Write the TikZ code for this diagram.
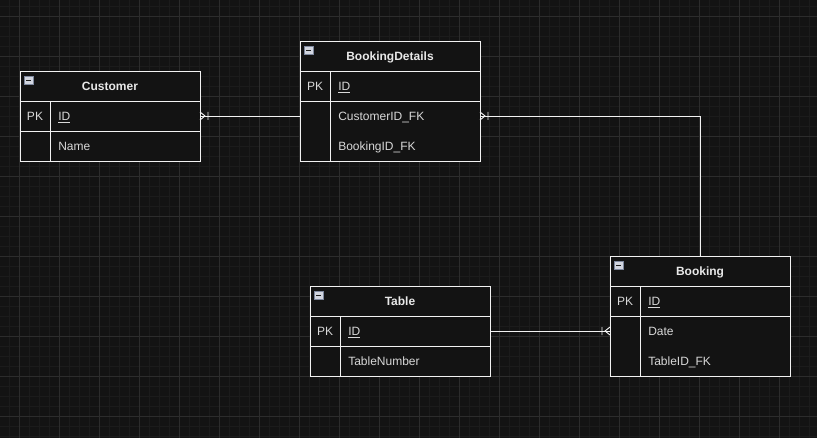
\documentclass[tikz,border=0pt]{standalone}
\usepackage{fontspec}
\setmainfont{Liberation Sans}

\definecolor{erbg}{HTML}{131313}
\definecolor{ergridminor}{HTML}{1B1B1B}
\definecolor{ergridmajor}{HTML}{2C2C2C}
\definecolor{erwhite}{HTML}{F2F2F2}
\definecolor{ertitletext}{HTML}{E8E8E8}
\definecolor{erfieldtext}{HTML}{D8D8D8}
\definecolor{ericonfill}{HTML}{D2D6E0}
\definecolor{ericonrim}{HTML}{7E889E}
\definecolor{ericonmark}{HTML}{1E1E1E}

\tikzset{
	erline/.style={draw=erwhite, line width=0.7pt},
	erbox/.style={erline, fill=erbg, anchor=north west, inner sep=0pt, outer sep=0pt, minimum width=135pt},
	ertitle/.style={text=ertitletext, font=\fontsize{9pt}{11pt}\selectfont\bfseries, inner sep=0pt, text height=6.45pt, text depth=0pt},
	erkey/.style={text=erfieldtext, font=\fontsize{9pt}{11pt}\selectfont, inner sep=0pt, text height=6.45pt, text depth=0pt},
	erfield/.style={erkey, anchor=west},
	ericon/.style={draw=ericonrim, fill=ericonfill, line width=0.6pt, minimum size=6.6pt, inner sep=0pt},
	ericonbar/.style={draw=ericonmark, line width=0.9pt},
}

\def\erIcon#1{\node[ericon] (#1) at (8.7,9.4) {};
	\draw[ericonbar] ([xshift=1.7pt]#1.west) -- ([xshift=-1.7pt]#1.east);}
\def\crowFoot#1#2{\begin{scope}[shift={(#1)}, xscale=#2]
	\draw[erline] (0,-4) -- (5,0) -- (0,4) (8,-4) -- (8,4);
	\end{scope}}

\begin{document}
\begin{tikzpicture}[x=0.75pt, y=-0.75pt, line cap=butt]
		% canvas and grid
		\path[use as bounding box, fill=erbg] (0,0) rectangle (817,438);
		\foreach \gx in {9.5,19.5,...,817} \draw[ergridminor, line width=0.6pt] (\gx,0) -- (\gx,438);
		\foreach \gy in {6,16,...,438} \draw[ergridminor, line width=0.6pt] (0,\gy) -- (817,\gy);
		\foreach \gx in {19.5,59.5,...,817} \draw[ergridmajor, line width=0.7pt] (\gx,0) -- (\gx,438);
		\foreach \gy in {16,56,...,438} \draw[ergridmajor, line width=0.7pt] (0,\gy) -- (817,\gy);
		
		% Customer
		\begin{scope}[shift={(20,71)}]
			\node[erbox, minimum height=67.5pt] (customer) at (0,0) {};
			\draw[erline] (0,30) -- (180,30) (0,60) -- (180,60) (30,30) -- (30,90);
			\erIcon{customerIcon}
			\node[ertitle] (customerTitle) at (90,15) {Customer};
			\node[erkey] (customerPK) at (15,45) {PK};
			\node[erfield] (customerID) at (38,45) {\underline{ID}};
			\node[erfield] (customerName) at (38,75) {Name};
		\end{scope}
		
		% BookingDetails
		\begin{scope}[shift={(300,41)}]
			\node[erbox, minimum height=90pt] (details) at (0,0) {};
			\draw[erline] (0,30) -- (180,30) (0,60) -- (180,60) (30,30) -- (30,120);
			\erIcon{detailsIcon}
			\node[ertitle] (detailsTitle) at (90,15) {BookingDetails};
			\node[erkey] (detailsPK) at (15,45) {PK};
			\node[erfield] (detailsID) at (38,45) {\underline{ID}};
			\node[erfield] (detailsCustomer) at (38,75) {CustomerID\_FK};
			\node[erfield] (detailsBooking) at (38,105) {BookingID\_FK};
		\end{scope}
		
		% Booking
		\begin{scope}[shift={(610,256)}]
			\node[erbox, minimum height=90pt] (booking) at (0,0) {};
			\draw[erline] (0,30) -- (180,30) (0,60) -- (180,60) (30,30) -- (30,120);
			\erIcon{bookingIcon}
			\node[ertitle] (bookingTitle) at (90,15) {Booking};
			\node[erkey] (bookingPK) at (15,45) {PK};
			\node[erfield] (bookingID) at (38,45) {\underline{ID}};
			\node[erfield] (bookingDate) at (38,75) {Date};
			\node[erfield] (bookingTable) at (38,105) {TableID\_FK};
		\end{scope}
		
		% Table
		\begin{scope}[shift={(310,286)}]
			\node[erbox, minimum height=67.5pt] (table) at (0,0) {};
			\draw[erline] (0,30) -- (180,30) (0,60) -- (180,60) (30,30) -- (30,90);
			\erIcon{tableIcon}
			\node[ertitle] (tableTitle) at (90,15) {Table};
			\node[erkey] (tablePK) at (15,45) {PK};
			\node[erfield] (tableID) at (38,45) {\underline{ID}};
			\node[erfield] (tableNumber) at (38,75) {TableNumber};
		\end{scope}
		
		% relations
		\draw[erline] (customerID -| customer.east) -- (detailsCustomer -| details.west);
		\draw[erline] (detailsCustomer -| details.east) -| (booking.north);
		\draw[erline] (tableID -| table.east) -- (bookingDate -| booking.west);
		\crowFoot{customerID -| customer.east}{1}
		\crowFoot{detailsCustomer -| details.east}{1}
		\crowFoot{bookingDate -| booking.west}{-1}
\end{tikzpicture}
\end{document}
